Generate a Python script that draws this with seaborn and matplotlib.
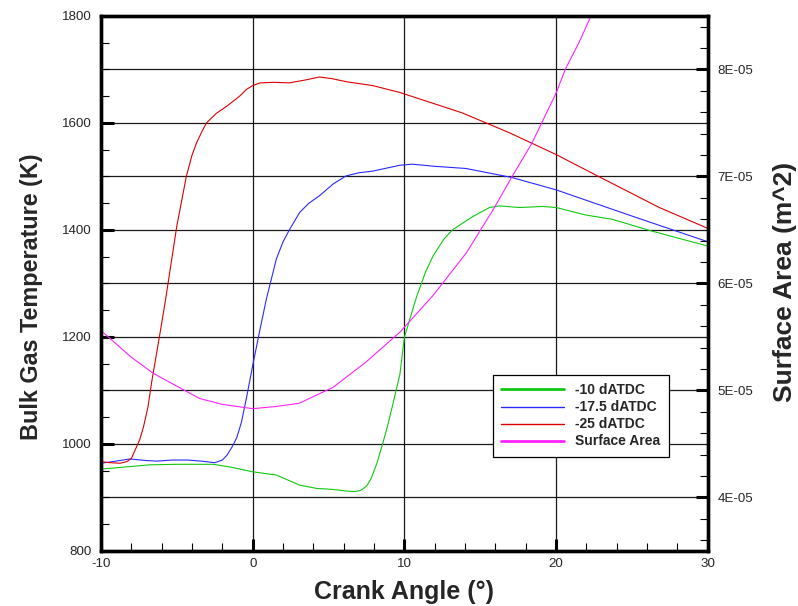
import numpy as np
import pandas as pd
import seaborn as sns
import matplotlib
matplotlib.use("Agg")
import matplotlib.pyplot as plt
from matplotlib.ticker import MultipleLocator, FuncFormatter

# Bulk gas temperature for three injection timings, and combustion-chamber surface area
crank_10 = [-10, -8, -6.8, -5, -2.6, -1.5, 0, 1.55, 3.1, 4.2, 5.3, 6.2, 6.7, 7.1, 7.5,
            7.8, 8.2, 8.6, 8.9, 9.2, 9.7, 10.0, 10.8, 11.4, 11.9, 12.6, 13.2, 14.5, 15.6,
            16.25, 17.6, 19.1, 20, 21.95, 23.7, 26.3, 30]
temp_10 = [953, 958, 961, 962, 962, 957, 948, 942, 923, 917, 915, 912, 911, 913, 921,
           935, 965, 1004, 1035, 1070, 1130, 1200, 1275, 1322, 1352, 1383, 1401, 1425,
           1442, 1445, 1442, 1444, 1442, 1428, 1420, 1398, 1370]

crank_17 = [-10, -9, -8.1, -7, -6.3, -5.3, -4.3, -3.4, -2.5, -2.0, -1.7, -1.35, -1.05,
            -0.75, -0.42, 0, 0.45, 0.9, 1.56, 2.0, 2.43, 3.1, 3.7, 4.4, 5.3, 6.15, 7.0,
            7.9, 9.7, 10.5, 12, 14.05, 17.1, 20, 25, 30]
temp_17 = [964, 968, 972, 969, 968, 970, 970, 968, 965, 970, 979, 995, 1012,
           1040, 1085, 1147, 1210, 1271, 1346, 1378, 1401, 1433, 1450, 1464, 1486, 1501,
           1507, 1510, 1521, 1523, 1519, 1515, 1498, 1475, 1426, 1378]

crank_25 = [-10, -9.4, -8.75, -8.3, -8.0, -7.7, -7.45, -7.2, -6.9, -6.66, -6.1, -5.74,
            -5.0, -4.37, -4.0, -3.7, -3.35, -3.05, -2.4, -1.73, -0.87, -0.4, 0, 0.5, 1.4,
            2.4, 3.4, 4.4, 5.2, 6.2, 7.9, 9.7, 13.8, 16.9, 20, 22.8, 26.8, 30]
temp_25 = [967, 965, 964, 967, 973, 992, 1008, 1032, 1070, 1116, 1209, 1271,
           1408, 1501, 1540, 1563, 1584, 1600, 1618, 1631, 1650, 1663, 1670, 1675, 1676,
           1675, 1680, 1686, 1683, 1677, 1670, 1657, 1619, 1582, 1541, 1500, 1442, 1403]

crank_area = [-10, -8, -6.55, -5, -3.5, -2, 0, 1.5, 3.05, 5.3, 7.5, 9.7, 11.9, 14.1,
              15.85, 17.1, 18.4, 20, 20.6, 21.5, 22.3, 22.8]
surface_area = [5.56e-5, 5.31e-5, 5.16e-5, 5.04e-5, 4.925e-5, 4.87e-5, 4.83e-5, 4.85e-5,
                4.88e-5, 5.03e-5, 5.27e-5, 5.545e-5, 5.89e-5, 6.29e-5, 6.69e-5, 7.0e-5,
                7.31e-5, 7.78e-5, 8.0e-5, 8.25e-5, 8.5e-5, 8.66e-5]

labels = ["-10 dATDC", "-17.5 dATDC", "-25 dATDC", "Surface Area"]
colors = ["#10c810", "#2a2aff", "#dd0000", "#ff22ff"]

sns.set_style("white")
plt.rcParams["font.family"] = ["Liberation Sans", "DejaVu Sans"]
plt.rcParams["axes.unicode_minus"] = False

fig = plt.figure(figsize=(7.98, 6.06), dpi=100)
ax = fig.add_axes([0.1266, 0.0908, 0.887 - 0.1266, 0.9736 - 0.0908])
ax2 = ax.twinx()

# reference grid: every 100 K horizontally, every 10 degrees vertically
for yv in np.arange(900, 1800, 100):
    ax.axhline(yv, color="#1a1a1a", lw=0.9, zorder=0.5)
for xv in [0, 10, 20]:
    ax.axvline(xv, color="#1a1a1a", lw=0.9, zorder=0.5)

temps = [(crank_10, temp_10), (crank_17, temp_17), (crank_25, temp_25)]
for (cx, ty), lab, col in zip(temps, labels[:3], colors[:3]):
    df = pd.DataFrame({"crank": cx, "temp": ty})
    sns.lineplot(data=df, x="crank", y="temp", ax=ax, color=col, lw=0.8,
                 label=lab, sort=False, zorder=3)

df_area = pd.DataFrame({"crank": crank_area, "area": surface_area})
sns.lineplot(data=df_area, x="crank", y="area", ax=ax2, color=colors[3], lw=0.8,
             label=labels[3], sort=False)

ax.set_xlim(-10, 30)
ax.set_ylim(800, 1800)
ax2.set_ylim(3.5e-5, 8.5e-5)

ax.xaxis.set_major_locator(MultipleLocator(10))
ax.xaxis.set_minor_locator(MultipleLocator(2))
ax.yaxis.set_major_locator(MultipleLocator(200))
ax.yaxis.set_minor_locator(MultipleLocator(50))
ax2.yaxis.set_major_locator(MultipleLocator(1e-5))
ax2.yaxis.set_minor_locator(MultipleLocator(2e-6))
ax2.yaxis.set_major_formatter(FuncFormatter(lambda v, p: f"{v:.0E}"))

for a in (ax, ax2):
    a.tick_params(which="major", direction="in", length=9, width=2.2,
                  labelsize=9.6, color="black", pad=7)
    a.tick_params(which="minor", direction="in", length=5.5, width=0.8, color="black")
    for s in a.spines.values():
        s.set_linewidth(2.4)
        s.set_color("black")
ax.tick_params(axis="x", which="both", bottom=True, top=False, pad=5)
ax.tick_params(axis="y", which="both", left=True, right=False)
ax2.tick_params(axis="y", which="both", right=True, left=False)

ax.set_xlabel("Crank Angle (\u00b0)", fontsize=18, fontweight="bold")
ax.set_ylabel("Bulk Gas Temperature (K)", fontsize=16.8, fontweight="bold")
ax2.set_ylabel("Surface Area (m^2)", fontsize=19, fontweight="bold")
ax.xaxis.set_label_coords(0.5, -0.054)
ax.yaxis.set_label_coords(-0.095, 0.475)
ax2.yaxis.set_label_coords(1.108, 0.503)

# combined legend for both axes
h1, l1 = ax.get_legend_handles_labels()
h2, l2 = ax2.get_legend_handles_labels()
if ax.get_legend() is not None:
    ax.get_legend().remove()
if ax2.get_legend() is not None:
    ax2.get_legend().remove()
leg = ax2.legend(h1 + h2, l1 + l2, loc="lower left",
                 bbox_to_anchor=(0.646, 0.176, 0.29, 0.157), mode="expand",
                 fancybox=False, framealpha=1, edgecolor="black",
                 prop={"weight": "bold", "size": 10}, handlelength=4.5,
                 labelspacing=0.22, borderpad=0.6, handletextpad=0.8,
                 borderaxespad=0)
leg.get_frame().set_linewidth(0.9)
for line, lw in zip(leg.get_lines(), [2.0, 1.0, 1.0, 2.0]):
    line.set_linewidth(lw)

fig.savefig("out.png", dpi=100)
